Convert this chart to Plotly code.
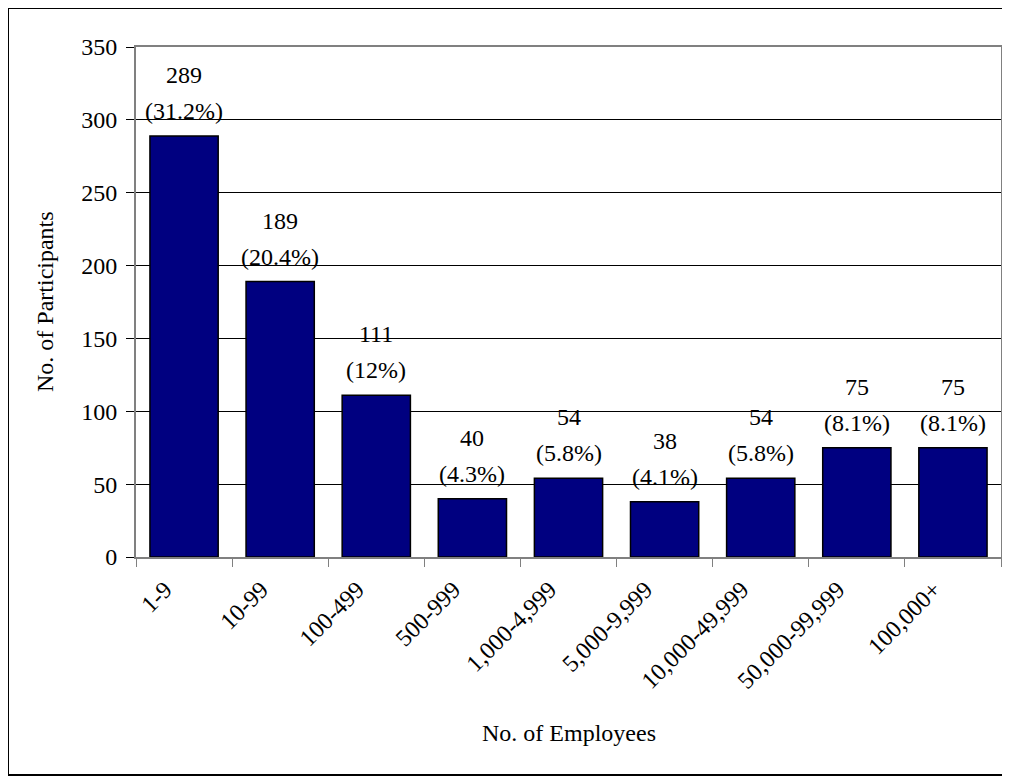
import plotly.graph_objects as go

categories = ["1-9", "10-99", "100-499", "500-999", "1,000-4,999", "5,000-9,999",
              "10,000-49,999", "50,000-99,999", "100,000+"]
counts = [289, 189, 111, 40, 54, 38, 54, 75, 75]
percents = ["31.2%", "20.4%", "12%", "4.3%", "5.8%", "4.1%", "5.8%", "8.1%", "8.1%"]

FONT = "Liberation Serif, Times New Roman, serif"

fig = go.Figure(go.Bar(
    x=categories, y=counts,
    marker=dict(color="#000080", line=dict(color="black", width=1.5)),
    cliponaxis=False,
))

# page has an 8px body margin, so the figure is sized/positioned to compensate
W, H = 1002, 769
L, R, T, B = 128, 993, 39, 549
pw, ph = R - L, B - T

annotations = []
for c, n, p in zip(categories, counts, percents):
    annotations.append(dict(x=c, y=n, xref="x", yref="y", text=f"({p})",
                            showarrow=False, yanchor="middle", yshift=25,
                            font=dict(family=FONT, size=24, color="black")))
    annotations.append(dict(x=c, y=n, xref="x", yref="y", text=str(n),
                            showarrow=False, yanchor="middle", yshift=61,
                            font=dict(family=FONT, size=24, color="black")))

annotations += [
    dict(text="No. of Employees", xref="paper", yref="paper",
         x=0.5, y=(B - 725) / ph, showarrow=False,
         font=dict(family=FONT, size=24), xanchor="center", yanchor="middle"),
    dict(text="No. of Participants", xref="paper", yref="paper",
         x=(37 - L) / pw, y=0.5, textangle=-90, showarrow=False,
         font=dict(family=FONT, size=24), xanchor="center", yanchor="middle"),
]

fig.update_layout(
    width=W, height=H,
    margin=dict(l=L, r=W - R, t=T, b=H - B, autoexpand=False),
    paper_bgcolor="white", plot_bgcolor="white",
    bargap=0.29,
    showlegend=False,
    font=dict(family=FONT, size=24, color="black"),
    xaxis=dict(
        tickangle=-45, tickson="boundaries", ticks="outside", ticklen=8,
        tickcolor="#808080", showline=True, linecolor="#808080", linewidth=2,
        mirror=True, tickfont=dict(family=FONT, size=24), automargin=False,
        ticklabelshift=-19, ticklabelstandoff=7,
    ),
    yaxis=dict(
        range=[0, 350], dtick=50, ticks="outside", ticklen=8, tickcolor="black",
        showline=True, linecolor="#808080", linewidth=2, mirror=True,
        showgrid=True, gridcolor="black", gridwidth=1,
        tickfont=dict(family=FONT, size=24), automargin=False,
        ticklabelstandoff=4, zeroline=False,
    ),
    annotations=annotations,
    shapes=[dict(
        type="rect", xref="paper", yref="paper",
        x0=(0 - L) / pw, x1=(1001 - L) / pw,
        y0=(B - 767) / ph, y1=(B - 0) / ph,
        line=dict(color="black", width=2), fillcolor="rgba(0,0,0,0)",
    )],
)

fig.write_html("out.html")
